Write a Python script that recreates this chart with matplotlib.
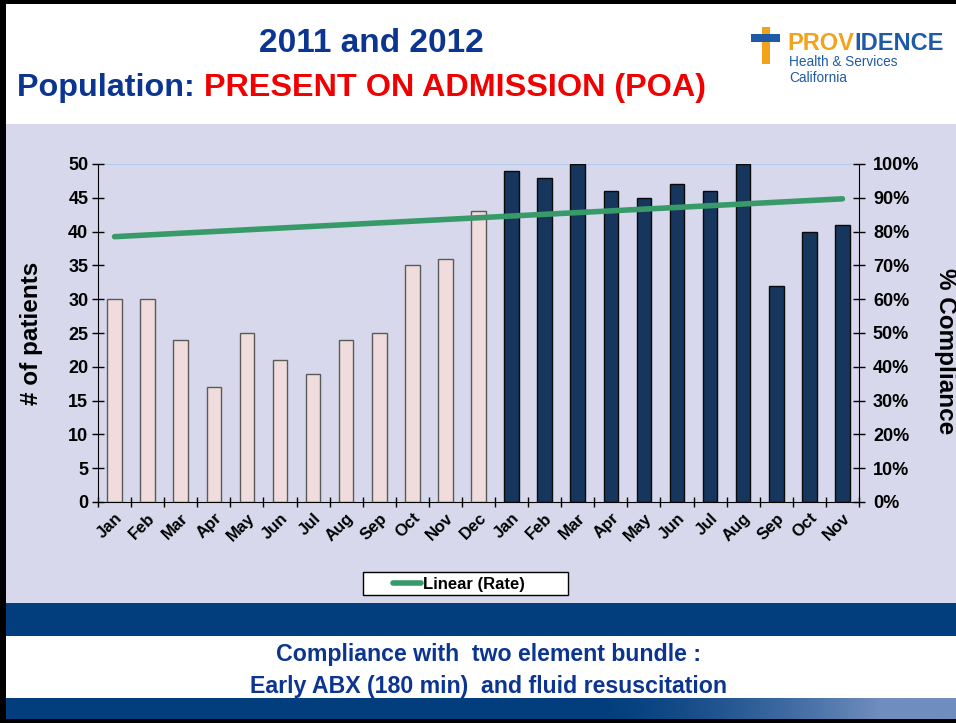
import numpy as np
import matplotlib
matplotlib.use('Agg')
import matplotlib.pyplot as plt
from matplotlib.patches import Rectangle
from matplotlib.lines import Line2D
from matplotlib.colors import LinearSegmentedColormap

# Data
months_2011 = ['Jan', 'Feb', 'Mar', 'Apr', 'May', 'Jun', 'Jul', 'Aug', 'Sep', 'Oct', 'Nov', 'Dec']
months_2012 = ['Jan', 'Feb', 'Mar', 'Apr', 'May', 'Jun', 'Jul', 'Aug', 'Sep', 'Oct', 'Nov']
patients_2011 = [30, 30, 24, 17, 25, 21, 19, 24, 25, 35, 36, 43]
patients_2012 = [49, 48, 50, 46, 45, 47, 46, 50, 32, 40, 41]
trend_pct = [78.5, 89.7]  # Linear (Rate) at first and last month

plt.rcParams['font.family'] = ['Liberation Sans', 'DejaVu Sans']

NAVY = '#0B3590'
BAND = '#023E7D'
PANEL = '#D7D8EB'
GREEN = '#379A68'
W, H = 956, 723

fig = plt.figure(figsize=(9.56, 7.23), dpi=100)
fig.patch.set_facecolor('white')


def frect(x0, y0, x1, y1, color, z=0, **kw):
    # rectangle in pixel coords measured from the top-left corner
    r = Rectangle((x0 / W, 1 - y1 / H), (x1 - x0) / W, (y1 - y0) / H,
                  transform=fig.transFigure, facecolor=color,
                  edgecolor=kw.pop('edgecolor', 'none'), zorder=z, **kw)
    fig.add_artist(r)
    return r


def ftext(px, py, s, **kw):
    return fig.text(px / W, 1 - py / H, s, **kw)


# slide background pieces
frect(0, 124, 956, 603, PANEL)
frect(0, 603, 956, 636, BAND)
frect(0, 636, 956, 698, 'white')

# bottom band with a soft lighter sweep to the right
band_ax = fig.add_axes([0, 4 / H, 1, 21 / H])
band_ax.axis('off')
grad = np.linspace(0, 1, 400)
grad = np.clip((grad - 0.62) / 0.3, 0, 1) ** 1.5
cmap = LinearSegmentedColormap.from_list('band', [BAND, '#6F8DBE'])
band_ax.imshow(grad[None, :], aspect='auto', cmap=cmap, extent=[0, 1, 0, 1])
band_ax.set_xlim(0, 1)

frect(0, 0, 6, 723, 'black', 5)
frect(0, 0, 956, 4, 'black', 5)
frect(0, 719, 956, 723, 'black', 5)

# titles
ftext(371, 43, '2011 and 2012', ha='center', va='center',
      fontsize=24, fontweight='bold', color=NAVY)
t1 = ftext(17, 88, 'Population: ', ha='left', va='center',
           fontsize=23.3, fontweight='bold', color=NAVY)
fig.canvas.draw()
bb = t1.get_window_extent()
fig.text(bb.x1 / W, 1 - 88 / H, 'PRESENT ON ADMISSION (POA)', ha='left', va='center',
         fontsize=23.3, fontweight='bold', color='#F00000')

# logo
frect(762, 27, 770, 64, '#F3A31B', 3)
frect(751, 34, 780, 42, '#1F5AA6', 4)
p1 = ftext(787, 43, 'PROV', ha='left', va='center', fontsize=17,
           fontweight='bold', color='#F3A31B')
fig.canvas.draw()
bb = p1.get_window_extent()
fig.text(bb.x1 / W, 1 - 43 / H, 'IDENCE', ha='left', va='center', fontsize=17,
         fontweight='bold', color='#1F5AA6')
ftext(789, 62, 'Health & Services', ha='left', va='center', fontsize=9.8, color='#1F5AA6')
ftext(789, 78, 'California', ha='left', va='center', fontsize=9.8, color='#1F5AA6')

# chart
ax = fig.add_axes([98 / W, 1 - 502 / H, 761 / W, 338 / H])
ax.patch.set_alpha(0)

labels = months_2011 + months_2012
n = len(labels)
x = np.arange(n)
x11 = x[:len(patients_2011)]
x12 = x[len(patients_2011):]
ax.bar(x11, patients_2011, width=0.44, color='#F0DCDC', edgecolor='#5A5A5A', linewidth=1)
ax.bar(x12, patients_2012, width=0.44, color='#17365D', edgecolor='#0A0A0A', linewidth=1)

ax.set_xlim(-0.5, n - 0.5)
ax.set_ylim(0, 50)
ax.set_yticks(np.arange(0, 51, 5))
ax.set_xticks(x)
ax.set_xticklabels(labels, rotation=45, ha='right', rotation_mode='anchor',
                   fontsize=12, fontweight='bold')
ax.set_xticks(np.arange(-0.5, n, 1), minor=True)
ax.tick_params(axis='x', which='major', length=0, pad=6)
ax.tick_params(axis='x', which='minor', length=7, direction='inout', width=1)
ax.tick_params(axis='y', length=8, direction='inout', width=1, labelsize=13, pad=3)
for lab in ax.get_yticklabels():
    lab.set_fontweight('bold')
for s in ['top', 'right']:
    ax.spines[s].set_visible(False)
ax.axhline(50, color='#A9CBF2', lw=1.2, zorder=0)
ax.set_ylabel('# of patients', fontsize=17.5, fontweight='bold')
ax.yaxis.set_label_coords(-(98 - 43) / 761, 0.5)

ax2 = ax.twinx()
ax2.set_ylim(0, 100)
ax2.set_yticks(np.arange(0, 101, 10))
ax2.set_yticklabels([f'{v}%' for v in range(0, 101, 10)])
ax2.tick_params(axis='y', length=8, direction='inout', width=1, labelsize=13, pad=6)
for lab in ax2.get_yticklabels():
    lab.set_fontweight('bold')
for s in ['top', 'left', 'bottom']:
    ax2.spines[s].set_visible(False)
ax2.plot([x[0], x[-1]], trend_pct, color=GREEN, lw=4, solid_capstyle='round')
ax2.set_ylabel('% Compliance', fontsize=17.5, fontweight='bold', rotation=-90, va='center')
ax2.yaxis.set_label_coords((945 - 98) / 761, (502 - 351) / 338)

# legend box, drawn by hand to match the wide padding of the original
frect(363, 572, 568, 595, 'white', 6, edgecolor='black', linewidth=1)
fig.add_artist(Line2D([393 / W, 421 / W], [1 - 583 / H] * 2, transform=fig.transFigure,
                      color=GREEN, lw=4, solid_capstyle='round', zorder=7))
ftext(423, 584, 'Linear (Rate)', ha='left', va='center', fontsize=12,
      fontweight='bold', zorder=7)

# footer text
ftext(488, 655, 'Compliance with  two element bundle :', ha='center', va='center',
      fontsize=16.7, fontweight='bold', color=NAVY)
ftext(488, 686, 'Early ABX (180 min)  and fluid resuscitation', ha='center',
      va='center', fontsize=16.7, fontweight='bold', color=NAVY)

fig.savefig('out.png', dpi=100)
